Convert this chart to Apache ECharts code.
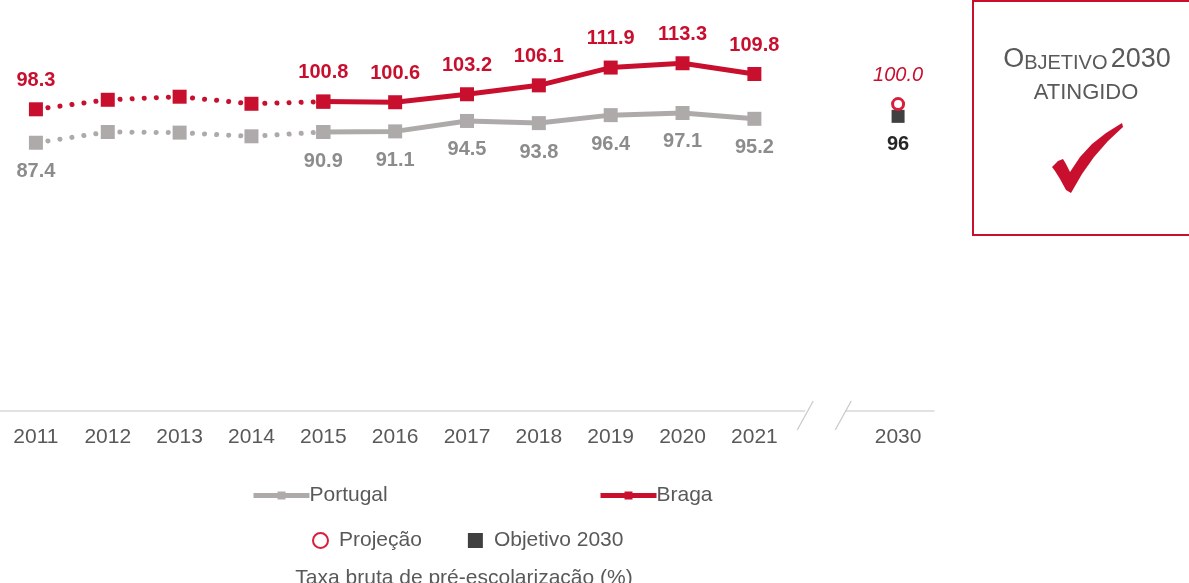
<!DOCTYPE html>
<html><head><meta charset="utf-8">
<script src="https://cdn.jsdelivr.net/npm/echarts@6/dist/echarts.min.js"></script>
<style>html,body{margin:0;padding:0;background:#fff}#c{width:1189px;height:583px}</style>
</head><body><div id="c"></div>
<script>
const categories = ['2011','2012','2013','2014','2015','2016','2017','2018','2019','2020','2021','','2030'];
const portugal = [87.4, 90.9, 90.7, 89.5, 90.9, 91.1, 94.5, 93.8, 96.4, 97.1, 95.2, null, null];
const braga    = [98.3, 101.4, 102.4, 100.1, 100.8, 100.6, 103.2, 106.1, 111.9, 113.3, 109.8, null, null];
const projecao = [null, null, null, null, null, null, null, null, null, null, null, null, 100.0];
const objetivo = [null, null, null, null, null, null, null, null, null, null, null, null, 96];
const solidFrom = 4; // 2015 onwards solid
const last = 10;
const dotLabels = [0];
const solidLabels = [4,5,6,7,8,9,10];

const RED = '#C8102E', GRAY = '#AEAAAA', LGRAY = '#8C8C8C', TXT = '#595959';
const FONT = '"Liberation Sans", Arial, sans-serif';

function part(arr, from, to, labelIdx) {
  return arr.map((v, i) => (i >= from && i <= to) ? {value: v, label: {show: labelIdx.includes(i)}} : null);
}

const chart = echarts.init(document.getElementById('c'));
const lblBraga = {position: 'top', distance: 12, color: RED, fontWeight: 'bold', fontSize: 20, fontFamily: FONT, formatter: p => p.value.toFixed(1)};
const lblPt = {position: 'bottom', distance: 12, color: LGRAY, fontWeight: 'bold', fontSize: 20, fontFamily: FONT, formatter: p => p.value.toFixed(1)};
const legText = {color: TXT, fontSize: 21, fontFamily: FONT};

chart.setOption({
  animation: false,
  textStyle: {fontFamily: FONT},
  title: {text: 'Taxa bruta de pré-escolarização (%)', left: 459, textAlign: 'center', top: 563,
    textStyle: {fontSize: 21, fontWeight: 'normal', color: TXT, fontFamily: FONT}},
  grid: {left: -2, right: 255, top: 12, bottom: 172, containLabel: false},
  xAxis: {type: 'category', data: categories, boundaryGap: true,
    axisLine: {lineStyle: {color: '#D9D9D9', width: 1.5}}, axisTick: {show: false},
    axisLabel: {color: TXT, fontSize: 21, margin: 16, fontFamily: FONT, interval: 0}},
  yAxis: {type: 'value', min: 0, max: 130, show: false, splitLine: {show: false}},
  legend: [
    {data: ['Portugal'], left: 246, top: 480, itemWidth: 56, itemHeight: 10, itemGap: 4,
      lineStyle: {width: 5}, textStyle: Object.assign({padding: [0,0,0,-5]}, legText)},
    {data: ['Braga'], left: 593, top: 480, itemWidth: 56, itemHeight: 10,
      lineStyle: {width: 5}, textStyle: Object.assign({padding: [0,0,0,-5]}, legText)},
    {data: ['Projeção', 'Objetivo 2030'], left: 307, top: 525, itemWidth: 15, itemHeight: 15, itemGap: 46,
      textStyle: Object.assign({padding: [0,0,0,6]}, legText)}
  ],
  series: [
    {name: 'Portugal (dotted)', type: 'line', data: part(portugal, 0, solidFrom, dotLabels), symbol: 'rect', symbolSize: 14,
      itemStyle: {color: GRAY}, lineStyle: {color: GRAY, width: 5, type: [0.1, 12], cap: 'round'},
      label: lblPt, z: 2},
    {name: 'Portugal', type: 'line', data: part(portugal, solidFrom, last, solidLabels), symbol: 'rect', symbolSize: 14,
      itemStyle: {color: GRAY}, lineStyle: {color: GRAY, width: 5}, label: lblPt, z: 3},
    {name: 'Braga (dotted)', type: 'line', data: part(braga, 0, solidFrom, dotLabels), symbol: 'rect', symbolSize: 14,
      itemStyle: {color: RED}, lineStyle: {color: RED, width: 5, type: [0.1, 12], cap: 'round'},
      label: lblBraga, z: 4},
    {name: 'Braga', type: 'line', data: part(braga, solidFrom, last, solidLabels), symbol: 'rect', symbolSize: 14,
      itemStyle: {color: RED}, lineStyle: {color: RED, width: 5}, label: lblBraga, z: 5},
    {name: 'Objetivo 2030', type: 'scatter', data: objetivo, symbol: 'rect', symbolSize: 13,
      itemStyle: {color: '#404040', opacity: 1},
      label: {show: true, position: 'bottom', distance: 12, color: '#262626', fontWeight: 'bold', fontSize: 20, fontFamily: FONT}, z: 5},
    {name: 'Projeção', type: 'scatter', data: projecao, symbol: 'circle', symbolSize: 11,
      itemStyle: {color: '#fff', borderColor: '#D81E3A', borderWidth: 3, opacity: 1},
      label: {show: true, position: 'top', distance: 12, color: RED, fontStyle: 'italic', fontSize: 20, fontFamily: FONT, formatter: p => p.value.toFixed(1)}, z: 6}
  ]
});

// Axis break marks and goal box
const gx = chart.convertToPixel({xAxisIndex: 0}, '');
const gy = chart.convertToPixel({yAxisIndex: 0}, 0);
chart.setOption({
  graphic: [
    {type: 'rect', shape: {x: gx - 21, y: gy - 3, width: 40, height: 6}, style: {fill: '#fff'}, z: 100},
    {type: 'line', shape: {x1: gx - 29, y1: gy + 19, x2: gx - 13, y2: gy - 10}, style: {stroke: '#C8C8C8', lineWidth: 1.2}, z: 101},
    {type: 'line', shape: {x1: gx + 9, y1: gy + 19, x2: gx + 25, y2: gy - 10}, style: {stroke: '#C8C8C8', lineWidth: 1.2}, z: 101},
    {type: 'rect', shape: {x: 973, y: 1, width: 230, height: 234}, style: {fill: 'none', stroke: RED, lineWidth: 2}, z: 100},
    {type: 'text', x: 1087, y: 60, style: {text: '{a|O}{b|BJETIVO} {a|2030}', align: 'center', verticalAlign: 'middle', fill: TXT,
      rich: {a: {fontSize: 27, fill: TXT, color: TXT, fontFamily: FONT}, b: {fontSize: 20, fill: TXT, color: TXT, fontFamily: FONT, verticalAlign: 'bottom'}}}, z: 101},
    {type: 'text', x: 1086, y: 93, style: {text: 'ATINGIDO', align: 'center', verticalAlign: 'middle', fontSize: 22, fill: TXT, fontFamily: FONT}, z: 101},
    {type: 'polygon', shape: {points: [[1052,167],[1058,161],[1063,159],[1066,164],[1070,172],[1080,157],[1092,144],[1106,133],[1122,123],[1123,127],[1108,141],[1094,157],[1082,174],[1071,193],[1066,190],[1060,179],[1055,171]]},
      style: {fill: RED}, z: 101}
  ]
});
</script></body></html>
